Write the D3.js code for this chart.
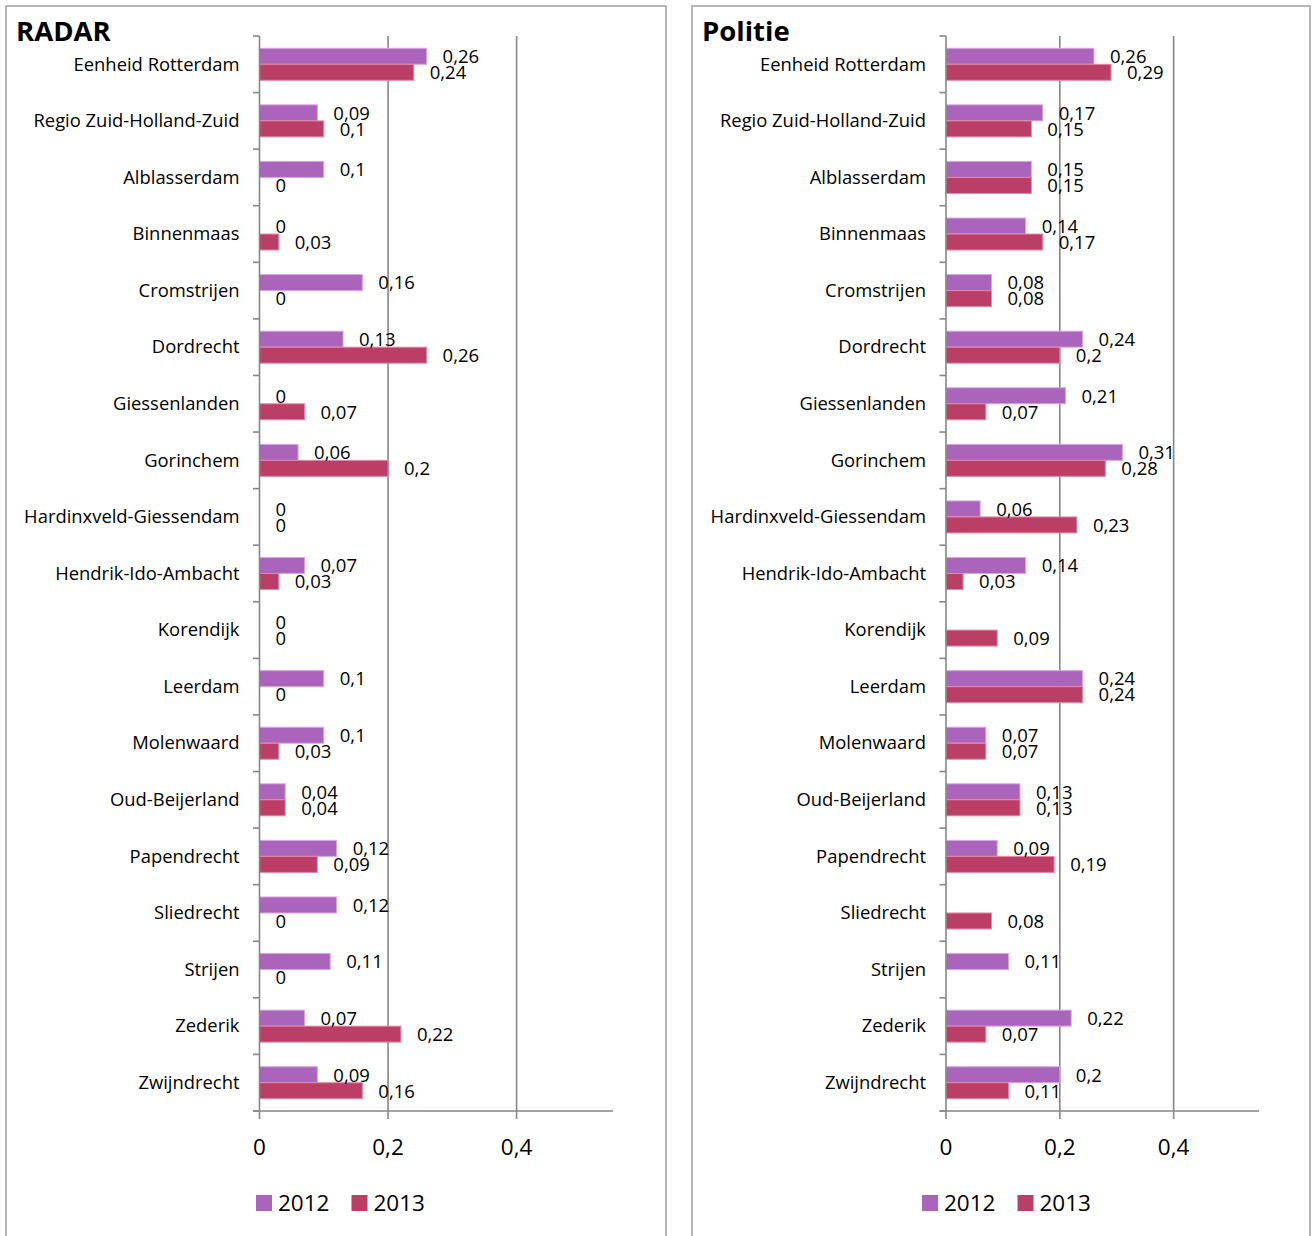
<!DOCTYPE html>
<html><head><meta charset="utf-8">
<script src="https://cdn.jsdelivr.net/npm/d3@7"></script>
<style>
html,body{margin:0;padding:0;background:#fff;}
svg{display:block;font-family:"Open Sans",sans-serif;}
</style></head>
<body><svg id="chart" width="1314" height="1236"></svg>
<script>
const categories = ["Eenheid Rotterdam","Regio Zuid-Holland-Zuid","Alblasserdam","Binnenmaas","Cromstrijen","Dordrecht","Giessenlanden","Gorinchem","Hardinxveld-Giessendam","Hendrik-Ido-Ambacht","Korendijk","Leerdam","Molenwaard","Oud-Beijerland","Papendrecht","Sliedrecht","Strijen","Zederik","Zwijndrecht"];
const seriesNames = ["2012","2013"];
const radar2012 = [0.26,0.09,0.1,0,0.16,0.13,0,0.06,0,0.07,0,0.1,0.1,0.04,0.12,0.12,0.11,0.07,0.09];
const radar2013 = [0.24,0.1,0,0.03,0,0.26,0.07,0.2,0,0.03,0,0,0.03,0.04,0.09,0,0,0.22,0.16];
const politie2012 = [0.26,0.17,0.15,0.14,0.08,0.24,0.21,0.31,0.06,0.14,null,0.24,0.07,0.13,0.09,null,0.11,0.22,0.2];
const politie2013 = [0.29,0.15,0.15,0.17,0.08,0.2,0.07,0.28,0.23,0.03,0.09,0.24,0.07,0.13,0.19,0.08,null,0.07,0.11];
const tickValues = [0,0.2,0.4];
const tickLabels = ["0","0,2","0,4"];
const titles = ["RADAR","Politie"];

const colors = {"2012":"#ab64bb","2013":"#ba3e66"};
const strokes = {"2012":"#d9a6e0","2013":"#e28aa8"};
const svg = d3.select("#chart");

const panels = [
  {title:titles[0], s2012:radar2012, s2013:radar2013, box:[6,6,666,1300], x0:259.5, x1:613, labelX:239.5, titleX:16, legendX:256},
  {title:titles[1], s2012:politie2012, s2013:politie2013, box:[692,6,1310,1300], x0:946, x1:1259, labelX:926, titleX:702, legendX:922}
];
const yTop = 36, yBot = 1111;
const fmt = v => String(v).replace(".", ",");

panels.forEach(p => {
  const g = svg.append("g");
  g.append("rect").attr("x",p.box[0]).attr("y",p.box[1]).attr("width",p.box[2]-p.box[0]).attr("height",p.box[3]-p.box[1])
    .attr("fill","#fff").attr("stroke","#a3a3a3").attr("stroke-width",1.6);
  g.append("text").attr("x",p.titleX).attr("y",41).attr("font-weight","bold").attr("font-size",27.5).attr("fill","#000").text(p.title);

  const x = d3.scaleLinear().domain([0,0.55]).range([p.x0,p.x1]);
  const y0 = d3.scaleBand().domain(categories).range([yTop,yBot]).padding(0);
  const y1 = d3.scaleBand().domain(seriesNames).range([0,y0.bandwidth()]).paddingInner(0).paddingOuter(0.768);

  // gridlines
  g.selectAll(".grid").data(tickValues.slice(1)).join("line")
    .attr("x1",d=>x(d)).attr("x2",d=>x(d)).attr("y1",yTop).attr("y2",yBot)
    .attr("stroke","#878787").attr("stroke-width",1.6);

  // bars
  const rows = categories.map((c,i)=>({cat:c, vals:[{s:"2012",v:p.s2012[i]},{s:"2013",v:p.s2013[i]}]}));
  const rg = g.selectAll(".row").data(rows).join("g").attr("transform",d=>`translate(0,${y0(d.cat)})`);
  rg.selectAll("rect").data(d=>d.vals.filter(e=>e.v!==null && e.v>0)).join("rect")
    .attr("x",x(0)).attr("y",d=>y1(d.s)).attr("width",d=>x(d.v)-x(0)).attr("height",y1.bandwidth())
    .attr("fill",d=>colors[d.s]).attr("stroke",d=>strokes[d.s]).attr("stroke-width",1);
  rg.selectAll("text").data(d=>d.vals.filter(e=>e.v!==null)).join("text")
    .attr("x",d=>x(d.v)+16).attr("y",d=>y1(d.s)+y1.bandwidth()/2).attr("dy","0.37em")
    .attr("font-size",18.5).attr("fill","#000").text(d=>fmt(d.v));

  // category labels
  g.selectAll(".cl").data(categories).join("text")
    .attr("x",p.labelX).attr("y",d=>y0(d)+y0.bandwidth()/2).attr("dy","0.34em")
    .attr("text-anchor","end").attr("font-size",18.4).attr("fill","#000").text(d=>d);

  // y axis line and ticks
  g.append("line").attr("x1",x(0)).attr("x2",x(0)).attr("y1",yTop).attr("y2",yBot).attr("stroke","#878787").attr("stroke-width",1.6);
  const bounds = categories.map(c=>y0(c)).concat([yBot]);
  g.selectAll(".yt").data(bounds).join("line")
    .attr("x1",x(0)-6.5).attr("x2",x(0)).attr("y1",d=>d).attr("y2",d=>d).attr("stroke","#878787").attr("stroke-width",1.6);

  // x axis
  g.append("line").attr("x1",x(0)-6.5).attr("x2",p.x1).attr("y1",yBot).attr("y2",yBot).attr("stroke","#878787").attr("stroke-width",1.6);
  g.selectAll(".xt").data(tickValues).join("line")
    .attr("x1",d=>x(d)).attr("x2",d=>x(d)).attr("y1",yBot).attr("y2",yBot+8).attr("stroke","#878787").attr("stroke-width",1.6);
  g.selectAll(".xl").data(tickValues).join("text")
    .attr("x",d=>x(d)).attr("y",1155).attr("text-anchor","middle").attr("font-size",22.5).attr("fill","#000")
    .text((d,i)=>tickLabels[i]);

  // legend
  const lg = g.append("g");
  seriesNames.forEach((s,i)=>{
    const lx = p.legendX + i*95.5;
    lg.append("rect").attr("x",lx).attr("y",1195).attr("width",16).attr("height",16).attr("fill",colors[s]);
    lg.append("text").attr("x",lx+22).attr("y",1211).attr("font-size",22.5).attr("fill","#000").text(s);
  });
});
</script></body></html>
